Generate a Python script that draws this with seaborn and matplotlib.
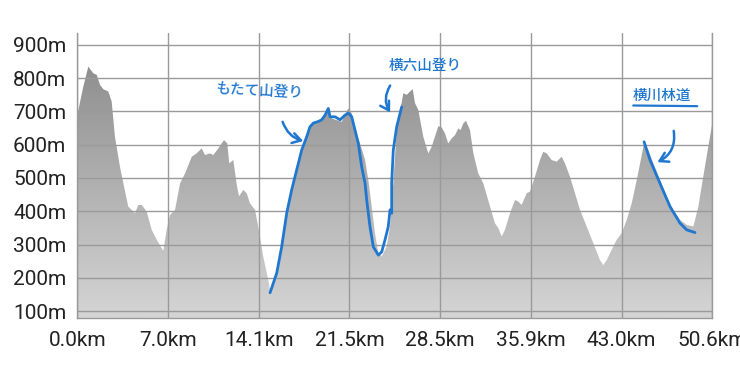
import numpy as np
import pandas as pd
import matplotlib
matplotlib.use("Agg")
import matplotlib.pyplot as plt
from matplotlib.colors import LinearSegmentedColormap
import seaborn as sns

# ---- data ----
dist_km = [0.0, 0.48, 0.88, 1.07, 1.27, 1.55, 1.81, 2.07, 2.47, 2.74, 3.00, 3.40, 3.67, 4.06,
           4.60, 4.86, 5.13, 5.53, 5.93, 6.33, 6.85, 7.12, 7.39, 7.79, 8.19, 8.59, 9.12, 9.51,
           9.91, 10.18, 10.57, 10.84, 11.24, 11.69, 11.95, 12.11, 12.43, 12.73, 12.89, 13.23,
           13.50, 13.76, 14.16, 14.42, 14.82, 15.22, 15.41, 15.89, 16.42, 16.81, 17.21, 17.61,
           18.14, 18.54, 18.94, 19.34, 19.74, 20.00, 20.27, 20.67, 21.07, 21.33, 21.60, 21.87,
           22.13, 22.53, 22.93, 23.19, 23.46, 23.72, 23.99, 24.26, 24.65, 24.92, 25.18, 25.45,
           25.98, 26.25, 26.51, 26.73, 26.91, 27.17, 27.57, 27.97, 28.24, 28.77, 29.04, 29.30,
           29.56, 29.83, 30.10, 30.36, 30.55, 30.76, 30.97, 31.29, 31.56, 31.95, 32.35, 32.89,
           33.28, 33.55, 33.82, 34.08, 34.48, 34.88, 35.14, 35.41, 35.81, 36.07, 36.47, 36.87,
           37.13, 37.40, 37.80, 38.20, 38.60, 38.86, 39.26, 39.66, 40.06, 40.59, 41.12, 41.65,
           41.92, 42.19, 42.58, 42.98, 43.38, 43.78, 44.18, 44.58, 44.90, 45.16, 45.50, 45.90,
           46.43, 46.97, 47.49, 48.03, 48.56, 49.09, 49.49, 49.88, 50.28, 50.60]
elev_m = [689, 775, 835, 825, 815, 810, 780, 767, 760, 730, 624, 534, 484, 414,
          394, 419, 419, 399, 344, 314, 281, 344, 389, 404, 484, 514, 564, 574,
          589, 569, 574, 569, 589, 614, 604, 544, 554, 474, 445, 464,
          454, 424, 404, 354, 263, 193, 153, 213, 314, 414, 494, 544,
          604, 654, 669, 674, 689, 709, 679, 674, 669, 689, 709, 694,
          644, 604, 554, 494, 414, 334, 274, 264, 294, 354, 484, 640,
          755, 750, 760, 767, 725, 705, 624, 574, 594, 656, 652, 634,
          604, 619, 629, 649, 644, 664, 672, 644, 574, 514, 484, 414,
          364, 349, 324, 344, 394, 434, 429, 419, 454, 459, 504, 554,
          579, 574, 554, 549, 564, 544, 504, 454, 404, 354, 304, 253,
          238, 253, 284, 314, 334, 374, 424, 494, 554, 604, 584, 544,
          494, 444, 404, 374, 359, 354, 414, 504, 594, 664]

x_tick_labels = ["0.0km", "7.0km", "14.1km", "21.5km", "28.5km", "35.9km", "43.0km", "50.6km"]
y_ticks = [100, 200, 300, 400, 500, 600, 700, 800, 900]
y_tick_labels = [f"{v}m" for v in y_ticks]

# hand-drawn traces
trace1_km = [15.36, 15.89, 16.29, 16.69, 17.08, 17.48, 17.88, 18.28, 18.54, 18.81, 19.20, 19.48,
             19.74, 20.00, 20.14, 20.54, 20.94, 21.33, 21.60, 21.87, 22.13, 22.39, 22.66, 22.93,
             23.06, 23.32, 23.59, 23.99, 24.26, 24.52, 24.78, 24.92, 25.05, 25.05, 25.18, 25.45, 25.85]
trace1_m = [155, 214, 294, 395, 464, 524, 584, 624, 654, 665, 670, 675,
            689, 709, 684, 684, 675, 689, 695, 684, 644, 604, 534, 484,
            434, 354, 293, 268, 278, 314, 354, 404, 394, 484, 584, 654, 714]
trace2_km = [45.16, 45.64, 46.43, 47.23, 48.03, 48.56, 49.22]
trace2_m = [609, 554, 484, 414, 364, 344, 336]

notes = ["もたて山登り", "横六山登り", "横川林道"]

# ---- style ----
sns.set_theme(style="white")
plt.rcParams["font.family"] = ["Roboto", "DejaVu Sans"]

fig = plt.figure(figsize=(7.4, 3.75), dpi=100)
ax = fig.add_axes([77.3 / 740, 1 - 318 / 375, 635 / 740, 285 / 375])
ymin, ymax = 79, 936
xmax = dist_km[-1]
ax.set_xlim(0, xmax)
ax.set_ylim(ymin, ymax)

# gradient-filled profile
poly = ax.fill_between(dist_km, elev_m, ymin, color="none", lw=0)
cmap = LinearSegmentedColormap.from_list("g", ["#d5d5d5", "#868686"])
grad = np.linspace(0, 1, 256).reshape(-1, 1)
im = ax.imshow(grad, extent=[0, xmax, ymin, ymax], origin="lower", cmap=cmap,
               aspect="auto", zorder=1, interpolation="bilinear")
im.set_clip_path(poly.get_paths()[0], transform=ax.transData)

# grid
xt = np.linspace(0, xmax, len(x_tick_labels))
for y in y_ticks:
    ax.axhline(y, color="#9a9a9a", lw=1.0, zorder=2)
for x in xt:
    ax.axvline(x, color="#9a9a9a", lw=1.0, zorder=2)

ax.set_xticks(xt)
ax.set_xticklabels(x_tick_labels)
ax.set_yticks(y_ticks)
ax.set_yticklabels(y_tick_labels)
ax.tick_params(axis="both", length=0, labelsize=15, labelcolor="#222222")
ax.tick_params(axis="y", pad=8)
ax.tick_params(axis="x", pad=9)
ax.spines["top"].set_visible(False)
for s in ["left", "right", "bottom"]:
    ax.spines[s].set_color("#9a9a9a")
    ax.spines[s].set_linewidth(1.0)
ax.set_xlabel("")
ax.set_ylabel("")

# hand-drawn annotations
blue = "#1f77d0"
sns.lineplot(x=trace1_km, y=trace1_m, sort=False, estimator=None, color=blue, lw=2.0, ax=ax, zorder=5)
sns.lineplot(x=trace2_km, y=trace2_m, sort=False, estimator=None, color=blue, lw=2.0, ax=ax, zorder=5)

afont = ["Noto Sans CJK JP", "DejaVu Sans"]
ax.text(14.5, 762, notes[0], color=blue, fontsize=10.5, family=afont, fontweight="medium",
        ha="center", va="center", rotation=-3, zorder=6)
ax.text(27.7, 836, notes[1], color=blue, fontsize=10.5, family=afont, fontweight="medium",
        ha="center", va="center", rotation=0, zorder=6)
ax.text(46.6, 746, notes[2], color=blue, fontsize=10.5, family=afont, fontweight="medium",
        ha="center", va="center", zorder=6)
ax.plot([44.3, 49.4], [718, 716], color=blue, lw=1.6, zorder=6)

arrow_kw = dict(arrowstyle="->,head_length=0.5,head_width=0.3", color=blue, lw=1.8)
ax.annotate("", xy=(18.22, 609), xytext=(16.29, 677),
            arrowprops=dict(connectionstyle="arc3,rad=0.3", **arrow_kw), zorder=6)
ax.annotate("", xy=(25.05, 690), xytext=(25.05, 785),
            arrowprops=dict(connectionstyle="arc3,rad=0.35", **arrow_kw), zorder=6)
ax.annotate("", xy=(46.03, 544), xytext=(47.49, 650),
            arrowprops=dict(connectionstyle="arc3,rad=-0.4", **arrow_kw), zorder=6)

fig.savefig("out.png", dpi=100)
